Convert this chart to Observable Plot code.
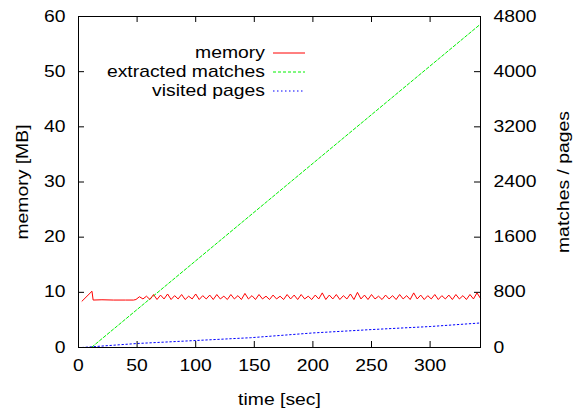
<!DOCTYPE html>
<html><head><meta charset="utf-8">
<script src="https://cdn.jsdelivr.net/npm/d3@7"></script>
<script src="https://cdn.jsdelivr.net/npm/@observablehq/plot@0.6"></script>
<style>
body{margin:0;background:#fff}
svg{font-family:"Liberation Sans",Arial,Helvetica,sans-serif}
</style>
</head><body><div id="chart"></div>
<script>
// ---- data ----
const memTime = [3, 11.5, 12.5, 20, 30, 40, 47,
  49,52,55,58,61,64,67,70,73,76,79,82,85,88,91,94,97,100,103,106,109,112,115,118,121,124,127,130,133,136,139,142,145,148,151,154,157,160,163,166,169,172,175,178,181,184,187,190,193,196,199,202,205,208,211,214,217,220,223,226,229,232,235,238,241,244,247,250,253,256,259,262,265,268,271,274,277,280,283,286,289,292,295,298,301,304,307,310,313,316,319,322,325,328,331,334,337,340,343];
const memMB = [8.4, 10.2, 8.6, 8.65, 8.6, 8.6, 8.6,
  8.7,9.2,8.8,9.3,8.7,9.6,8.7,9.5,8.8,9.7,8.7,9.4,8.8,9.6,8.7,9.3,8.8,9.7,8.7,9.4,8.8,9.5,8.7,9.6,8.8,9.3,8.7,9.6,8.8,9.4,8.7,9.8,8.8,9.4,8.7,9.6,8.8,9.3,8.7,9.5,8.8,9.3,8.7,9.6,8.8,9.5,8.7,9.6,8.8,9.3,8.7,9.5,8.8,9.9,8.7,9.5,8.8,9.6,8.7,9.4,8.8,9.7,8.7,10.0,8.8,9.5,8.7,9.6,8.8,9.3,8.7,9.5,8.8,9.4,8.7,9.6,8.8,9.4,8.7,9.9,8.8,9.5,8.7,9.4,8.8,9.6,8.7,9.4,8.8,9.5,8.7,9.6,8.8,9.4,8.7,9.6,8.8,9.9,8.9];
const matchTime = [3, 11, 343];
const matchCount = [0, 0, 4690];
const pageTime = [3, 50, 147, 200, 250, 300, 343];
const pageCount = [0, 58, 142, 211, 260, 304, 356];

const xTicks = [0, 50, 100, 150, 200, 250, 300];
const yTicks = [0, 10, 20, 30, 40, 50, 60];
const y2Ticks = [0, 800, 1600, 2400, 3200, 4000, 4800];
const seriesNames = ["memory", "extracted matches", "visited pages"];

// ---- styles / layout ----
const colors = ["#ff0000", "#00f000", "#0000ff"];
const dashes = [null, "3,2", "1.5,2.5"];
const ratio = y2Ticks[y2Ticks.length - 1] / yTicks[yTicks.length - 1];
const W = 584, H = 412, mL = 78, mR = 104, mT = 16, mB = 65;
const iW = W - mL - mR, iH = H - mT - mB, tk = 6;
const FS = 16, SX = 1.21;

const mem = memTime.map((t, i) => ({t, v: memMB[i]}));
const matches = matchTime.map((t, i) => ({t, v: matchCount[i]}));
const pages = pageTime.map((t, i) => ({t, v: pageCount[i]}));

const plot = Plot.plot({
  width: W, height: H,
  marginLeft: mL, marginRight: mR, marginTop: mT, marginBottom: mB,
  style: {fontFamily: '"Liberation Sans", Arial, sans-serif', fontSize: FS + "px", color: "#000", background: "#fff", overflow: "visible"},
  x: {domain: [0, 343]},
  y: {domain: [0, 60]},
  marks: [
    Plot.line(pages, {x: "t", y: d => d.v / ratio, stroke: colors[2], strokeWidth: 1, strokeDasharray: dashes[2]}),
    Plot.line(matches, {x: "t", y: d => d.v / ratio, stroke: colors[1], strokeWidth: 1, strokeDasharray: dashes[1]}),
    Plot.line(mem, {x: "t", y: "v", stroke: colors[0], strokeWidth: 1}),
    Plot.tickX(xTicks, {x: d => d, insetTop: iH - tk, stroke: "#000"}),
    Plot.tickX(xTicks, {x: d => d, insetBottom: iH - tk, stroke: "#000"}),
    Plot.tickY(yTicks, {y: d => d, insetRight: iW - tk, stroke: "#000"}),
    Plot.tickY(y2Ticks, {y: d => d / ratio, insetLeft: iW - tk, stroke: "#000"}),
    Plot.frame({stroke: "#000"}),
    Plot.axisX({ticks: xTicks, tickSize: 0, tickPadding: 12, label: null, fontSize: FS}),
    Plot.axisY({ticks: yTicks, tickSize: 0, tickPadding: 13, label: null, fontSize: FS}),
    Plot.axisY({anchor: "right", ticks: y2Ticks.map(v => v / ratio), tickFormat: (d, i) => String(y2Ticks[i]), tickSize: 0, tickPadding: 13, label: null, fontSize: FS}),
    Plot.text(["time [sec]"], {frameAnchor: "bottom", dy: 57, fontSize: FS}),
    Plot.text(["memory [MB]"], {frameAnchor: "left", textAnchor: "middle", dx: -55.5, rotate: -90, fontSize: FS}),
    Plot.text(["matches / pages"], {frameAnchor: "right", textAnchor: "middle", dx: 83, rotate: -90, fontSize: FS})
  ]
});

// legend
const svg = d3.select(plot);
const lg = svg.append("g");
seriesNames.forEach((name, i) => {
  const y = 53 + 19 * i;
  lg.append("text").attr("transform", `translate(265,${y + 4.5})`).attr("text-anchor", "end")
    .attr("font-size", FS).attr("fill", "#000").text(name);
  lg.append("line").attr("x1", 273).attr("x2", 305).attr("y1", y).attr("y2", y)
    .attr("stroke", colors[i]).attr("stroke-width", 1)
    .attr("stroke-dasharray", dashes[i]);
});

// widen all glyphs horizontally about their anchors (reference font is wide)
svg.selectAll("text").each(function () {
  let t = this.getAttribute("transform");
  if (!t) {
    const x = +(this.getAttribute("x") || 0), y = +(this.getAttribute("y") || 0);
    this.removeAttribute("x"); this.removeAttribute("y");
    t = `translate(${x},${y})`;
  }
  this.setAttribute("transform", t + ` scale(${SX},1)`);
});

document.getElementById("chart").appendChild(plot);
</script>
</body></html>
